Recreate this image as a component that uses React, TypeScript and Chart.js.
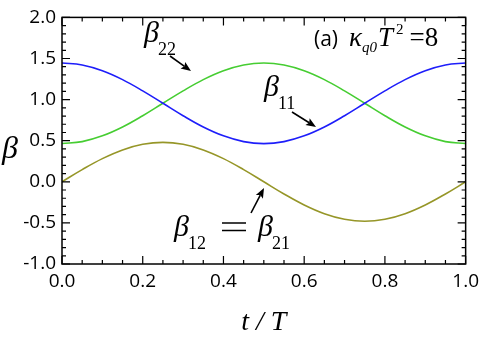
import React, { useEffect, useRef } from "react";
import { Chart, registerables } from "chart.js";

Chart.register(...registerables);

const tValues = [0, 0.05, 0.1, 0.15, 0.2, 0.25, 0.3, 0.35, 0.4, 0.45, 0.5, 0.55, 0.6, 0.65, 0.7, 0.75, 0.8, 0.85, 0.9, 0.95, 1.0];
const beta11 = [1.445, 1.421, 1.351, 1.243, 1.106, 0.955, 0.804, 0.667, 0.559, 0.489, 0.465, 0.489, 0.559, 0.667, 0.804, 0.955, 1.106, 1.243, 1.351, 1.421, 1.445];
const beta22 = [0.465, 0.489, 0.559, 0.667, 0.804, 0.955, 1.106, 1.243, 1.351, 1.421, 1.445, 1.421, 1.351, 1.243, 1.106, 0.955, 0.804, 0.667, 0.559, 0.489, 0.465];
const beta12 = [0, 0.148, 0.282, 0.388, 0.456, 0.48, 0.456, 0.388, 0.282, 0.148, 0, -0.148, -0.282, -0.388, -0.456, -0.48, -0.456, -0.388, -0.282, -0.148, 0];
const xTickLabels = ["0.0", "0.2", "0.4", "0.6", "0.8", "1.0"];
const yTickLabels = ["-1.0", "-0.5", "0.0", "0.5", "1.0", "1.5", "2.0"];

const SERIF = "'Liberation Serif', 'DejaVu Serif', serif";
const SANS = "'Open Sans', 'Noto Sans', sans-serif";

function arrow(ctx: CanvasRenderingContext2D, x1: number, y1: number, x2: number, y2: number) {
  const ang = Math.atan2(y2 - y1, x2 - x1);
  const head = 10;
  const hw = 4;
  ctx.save();
  ctx.strokeStyle = "#000";
  ctx.fillStyle = "#000";
  ctx.lineWidth = 1.6;
  const bx = x2 - head * 0.8 * Math.cos(ang);
  const by = y2 - head * 0.8 * Math.sin(ang);
  ctx.beginPath();
  ctx.moveTo(x1, y1);
  ctx.lineTo(bx, by);
  ctx.stroke();
  ctx.beginPath();
  ctx.moveTo(x2, y2);
  ctx.lineTo(x2 - head * Math.cos(ang) + hw * Math.sin(ang), y2 - head * Math.sin(ang) - hw * Math.cos(ang));
  ctx.lineTo(bx, by);
  ctx.lineTo(x2 - head * Math.cos(ang) - hw * Math.sin(ang), y2 - head * Math.sin(ang) + hw * Math.cos(ang));
  ctx.closePath();
  ctx.fill();
  ctx.restore();
}

function betaSub(ctx: CanvasRenderingContext2D, x: number, y: number, sub: string) {
  ctx.font = `italic 30px ${SERIF}`;
  ctx.fillText("β", x, y);
  const w = ctx.measureText("β").width;
  ctx.font = `18px ${SERIF}`;
  ctx.fillText(sub, x + w - 1, y + 13);
}

const framePlugin = {
  id: "framePlugin",
  afterDatasetsDraw(chart: any) {
    const { ctx, chartArea: a, scales } = chart;
    const xs = scales.x;
    const ys = scales.y;
    ctx.save();
    ctx.strokeStyle = "#000";
    ctx.lineWidth = 1.5;
    ctx.strokeRect(a.left, a.top, a.right - a.left, a.bottom - a.top);
    ctx.lineWidth = 1.2;
    ctx.beginPath();
    for (let i = 0; i <= 20; i++) {
      const v = i * 0.05;
      const px = xs.getPixelForValue(v);
      const len = i % 4 === 0 ? 8 : 4;
      ctx.moveTo(px, a.bottom);
      ctx.lineTo(px, a.bottom - len);
      ctx.moveTo(px, a.top);
      ctx.lineTo(px, a.top + len);
    }
    for (let i = 0; i <= 30; i++) {
      const v = -1 + i * 0.1;
      const py = ys.getPixelForValue(v);
      const len = i % 5 === 0 ? 8 : 4;
      ctx.moveTo(a.left, py);
      ctx.lineTo(a.left + len, py);
      ctx.moveTo(a.right, py);
      ctx.lineTo(a.right - len, py);
    }
    ctx.stroke();

    ctx.fillStyle = "#000";
    ctx.textBaseline = "alphabetic";
    ctx.textAlign = "left";
    // axis titles
    ctx.font = `italic 32px ${SERIF}`;
    ctx.fillText("β", 2, 158);
    ctx.font = `italic 28px ${SERIF}`;
    ctx.textAlign = "center";
    ctx.fillText("t / T", (a.left + a.right) / 2, 330);
    ctx.textAlign = "left";

    // curve labels
    betaSub(ctx, 144, 42, "22");
    arrow(ctx, 170, 56, 191, 71);
    betaSub(ctx, 264, 96, "11");
    arrow(ctx, 292, 112, 316, 127);
    betaSub(ctx, 174, 236, "12");
    ctx.lineWidth = 1.6;
    ctx.strokeStyle = "#000";
    ctx.beginPath();
    ctx.moveTo(222, 223);
    ctx.lineTo(246, 223);
    ctx.moveTo(222, 230.5);
    ctx.lineTo(246, 230.5);
    ctx.stroke();
    betaSub(ctx, 258, 236, "21");
    arrow(ctx, 251, 213, 264, 188);

    // title
    let x = 314;
    const by = 46;
    ctx.font = `21px ${SANS}`;
    ctx.fillText("(a)", x, by);
    x += ctx.measureText("(a)").width + 11;
    ctx.font = `italic 27px ${SERIF}`;
    ctx.fillText("κ", x, by);
    x += ctx.measureText("κ").width;
    ctx.font = `italic 15px ${SERIF}`;
    ctx.fillText("q0", x, by + 6);
    x += ctx.measureText("q0").width + 1;
    ctx.font = `italic 27px ${SERIF}`;
    ctx.fillText("T", x, by);
    x += ctx.measureText("T").width + 3;
    ctx.font = `15px ${SERIF}`;
    ctx.fillText("2", x, by - 12);
    x += ctx.measureText("2").width + 6;
    ctx.font = `27px ${SERIF}`;
    ctx.fillText("=8", x, by);
    ctx.restore();
  },
};

export default function App() {
  const ref = useRef<HTMLCanvasElement | null>(null);
  useEffect(() => {
    if (!ref.current) return;
    const mk = (arr: number[]) => tValues.map((t, i) => ({ x: t, y: arr[i] }));
    const chart = new Chart(ref.current, {
      type: "line",
      data: {
        datasets: [
          { label: "β11", data: mk(beta11), borderColor: "rgb(30,30,250)", borderWidth: 1.6, pointRadius: 0, tension: 0.4, fill: false },
          { label: "β22", data: mk(beta22), borderColor: "rgb(70,205,50)", borderWidth: 1.6, pointRadius: 0, tension: 0.4, fill: false },
          { label: "β12", data: mk(beta12), borderColor: "rgb(150,150,40)", borderWidth: 1.6, pointRadius: 0, tension: 0.4, fill: false },
        ],
      },
      options: {
        animation: false,
        responsive: false,
        maintainAspectRatio: false,
        layout: { padding: { top: 13, right: 16, left: 0, bottom: 0 } },
        plugins: { legend: { display: false }, tooltip: { enabled: false } },
        scales: {
          x: {
            type: "linear",
            min: 0,
            max: 1,
            grid: { display: false, drawTicks: false },
            border: { display: false },
            ticks: {
              stepSize: 0.2,
              padding: 6,
              color: "#000",
              font: { family: SANS, size: 19 },
              callback: (v: any) => xTickLabels[Math.round(Number(v) / 0.2)] ?? "",
            },
            afterFit: (s: any) => {
              s.height = 76;
            },
          },
          y: {
            type: "linear",
            min: -1,
            max: 2,
            grid: { display: false, drawTicks: false },
            border: { display: false },
            ticks: {
              stepSize: 0.5,
              padding: 6,
              color: "#000",
              font: { family: SANS, size: 19 },
              callback: (v: any) => yTickLabels[Math.round((Number(v) + 1) / 0.5)] ?? "",
            },
            afterFit: (s: any) => {
              s.width = 62;
            },
          },
        },
      },
      plugins: [framePlugin],
    });
    return () => chart.destroy();
  }, []);
  return (
    <div style={{ position: "fixed", left: 0, top: 0, width: 485, height: 340, background: "#fff" }}>
      <canvas ref={ref} width={485} height={340} />
    </div>
  );
}
